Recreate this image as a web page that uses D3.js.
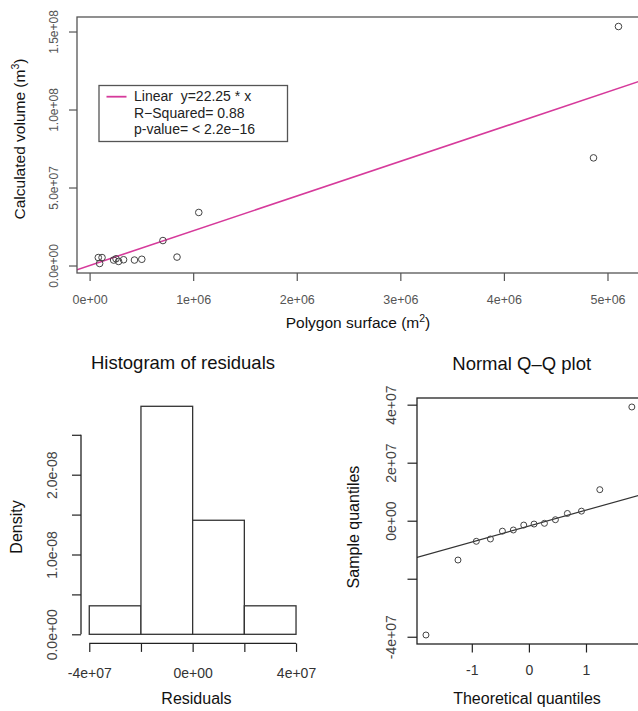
<!DOCTYPE html>
<html><head><meta charset="utf-8">
<script src="https://cdn.jsdelivr.net/npm/d3@7"></script>
<style>
html,body{margin:0;padding:0;background:#fff;}
svg{display:block;font-family:"Liberation Sans",Arial,sans-serif;}
</style></head>
<body>
<svg id="c" width="638" height="711"></svg>
<script>
// ---------- DATA ----------
// Top scatter: polygon surface (m2) vs calculated volume (m3)
const surface = [84000, 120000, 97000, 232000, 255000, 280000, 328000, 433000, 504000, 708000, 844000, 1054000, 4865000, 5106000];
const volume  = [5.1e6, 5.1e6, 1.3e6, 3.5e6, 4.3e6, 2.6e6, 3.7e6, 3.5e6, 4.0e6, 16.0e6, 5.4e6, 34.0e6, 69.0e6, 153.2e6];
const slope = 22.25;
const topXTicks = [0, 1e6, 2e6, 3e6, 4e6, 5e6];
const topXLabels = ["0e+00", "1e+06", "2e+06", "3e+06", "4e+06", "5e+06"];
const topYTicks = [0, 5e7, 1e8, 1.5e8];
const topYLabels = ["0.0e+00", "5.0e+07", "1.0e+08", "1.5e+08"];
const legendLines = ["Linear\u00a0 y=22.25 * x", "R\u2212Squared= 0.88", "p-value= < 2.2e\u221216"];

// Histogram of residuals
const binEdges = [-4e7, -2e7, 0, 2e7, 4e7];
const density = [3.57e-9, 2.857e-8, 1.429e-8, 3.57e-9];
const histXTicks = [-4e7, -2e7, 0, 2e7, 4e7];
const histXLabels = ["-4e+07", "", "0e+00", "", "4e+07"];
const histYTicks = [0, 0.5e-8, 1.0e-8, 1.5e-8, 2.0e-8, 2.5e-8];
const histYLabels = ["0.0e+00", "", "1.0e-08", "", "2.0e-08", ""];

// Normal Q-Q plot
const theoretical = [-1.803, -1.242, -0.921, -0.674, -0.464, -0.272, -0.090, 0.090, 0.272, 0.464, 0.674, 0.921, 1.242, 1.803];
const sample = [-39.4e6, -13.55e6, -7.1e6, -6.3e6, -3.6e6, -3.2e6, -1.5e6, -1.15e6, -0.9e6, 0.34e6, 2.5e6, 3.3e6, 10.7e6, 39.2e6];
const qqIntercept = -1.85e6, qqSlope = 5.5e6;
const qqXTicks = [-1, 0, 1];
const qqXLabels = ["-1", "0", "1"];
const qqYTicks = [-4e7, -2e7, 0, 2e7, 4e7];
const qqYLabels = ["-4e+07", "", "0e+00", "2e+07", "4e+07"];

// ---------- DRAW ----------
const svg = d3.select("#c");
const pink = "#d63a9b";

function rotLabels(g, off, size, color) {
  g.selectAll(".tick text")
    .attr("transform", "rotate(-90)")
    .attr("x", 0).attr("y", -off).attr("dy", 0)
    .attr("text-anchor", "middle")
    .style("font-size", size + "px").attr("fill", color);
}

// ===== Top scatter =====
{
  const x = d3.scaleLinear().domain([-0.1216e6, 5.31e6]).range([77, 639.6]);
  const y = d3.scaleLinear().domain([-4.8e6, 159.3e6]).range([273, 17]);
  const g = svg.append("g");
  const axCol = "#555";

  svg.append("clipPath").attr("id", "clipTop").append("rect")
    .attr("x", 77).attr("y", 17).attr("width", 562.6).attr("height", 256);
  const xd = x.domain();
  g.append("line").attr("clip-path", "url(#clipTop)")
    .attr("x1", x(xd[0])).attr("y1", y(slope * xd[0]))
    .attr("x2", x(xd[1])).attr("y2", y(slope * xd[1]))
    .attr("stroke", pink).attr("stroke-width", 1.6);

  g.append("g").selectAll("circle").data(surface).join("circle")
    .attr("cx", d => x(d)).attr("cy", (d, i) => y(volume[i])).attr("r", 3.3)
    .attr("fill", "none").attr("stroke", "#444").attr("stroke-width", 1);

  g.append("rect").attr("x", 77).attr("y", 17).attr("width", 562.6).attr("height", 256)
    .attr("fill", "none").attr("stroke", axCol).attr("stroke-width", 1.3);

  const xa = g.append("g").attr("transform", "translate(0,273)")
    .call(d3.axisBottom(x).tickValues(topXTicks).tickFormat((d, i) => topXLabels[i]).tickSize(8).tickSizeOuter(0).tickPadding(14));
  xa.select(".domain").remove();
  xa.selectAll(".tick line").attr("stroke", axCol).attr("stroke-width", 1.2);
  xa.selectAll(".tick text").style("font-size", "12.5px").attr("fill", "#555").attr("font-family", "Liberation Sans, Arial, sans-serif");

  const ya = g.append("g").attr("transform", "translate(77,0)")
    .call(d3.axisLeft(y).tickValues(topYTicks).tickFormat((d, i) => topYLabels[i]).tickSize(8).tickSizeOuter(0));
  ya.select(".domain").remove();
  ya.selectAll(".tick line").attr("stroke", axCol).attr("stroke-width", 1.2);
  rotLabels(ya, 19, 12, "#555");

  const xt = g.append("text").attr("x", 358).attr("y", 328).attr("text-anchor", "middle")
    .style("font-size", "15.5px").attr("fill", "#111");
  xt.append("tspan").text("Polygon surface (m");
  xt.append("tspan").text("2").attr("dy", -6).style("font-size", "10.5px");
  xt.append("tspan").text(")").attr("dy", 6);

  const yt = g.append("text").attr("transform", "translate(25,139) rotate(-90)").attr("text-anchor", "middle")
    .style("font-size", "15.5px").attr("fill", "#111");
  yt.append("tspan").text("Calculated volume (m");
  yt.append("tspan").text("3").attr("dy", -6).style("font-size", "10.5px");
  yt.append("tspan").text(")").attr("dy", 6);

  const lg = g.append("g");
  lg.append("rect").attr("x", 99).attr("y", 85.5).attr("width", 188.5).attr("height", 56)
    .attr("fill", "#fff").attr("stroke", "#555").attr("stroke-width", 1.3);
  lg.append("line").attr("x1", 106.5).attr("x2", 126.5).attr("y1", 96.7).attr("y2", 96.7)
    .attr("stroke", pink).attr("stroke-width", 1.8);
  lg.selectAll("text.lt").data(legendLines).join("text").attr("class", "lt")
    .attr("x", 134).attr("y", (d, i) => 101 + i * 16.5)
    .style("font-size", "14px").attr("fill", "#222").text(d => d);
}

// ===== Histogram =====
{
  const x = d3.scaleLinear().domain([-4.32e7, 4.32e7]).range([81, 304.3]);
  const y = d3.scaleLinear().domain([-0.114e-8, 2.971e-8]).range([643.4, 397.2]);
  const g = svg.append("g");
  const col = "#222";

  g.selectAll("rect.bar").data(density).join("rect").attr("class", "bar")
    .attr("x", (d, i) => x(binEdges[i])).attr("width", (d, i) => x(binEdges[i + 1]) - x(binEdges[i]))
    .attr("y", d => y(d)).attr("height", d => y(0) - y(d))
    .attr("fill", "#fff").attr("stroke", "#333").attr("stroke-width", 1.3);

  const xa = g.append("g").attr("transform", "translate(0,643.4)")
    .call(d3.axisBottom(x).tickValues(histXTicks).tickFormat((d, i) => histXLabels[i]).tickSize(8.5).tickSizeOuter(0).tickPadding(16));
  xa.select(".domain").remove();
  xa.append("line").attr("x1", x(histXTicks[0])).attr("x2", x(histXTicks[histXTicks.length - 1]))
    .attr("stroke", col).attr("stroke-width", 1.3);
  xa.selectAll(".tick line").attr("stroke", col).attr("stroke-width", 1.2);
  xa.selectAll(".tick text").style("font-size", "14px").attr("fill", "#333");

  const ya = g.append("g").attr("transform", "translate(81,0)")
    .call(d3.axisLeft(y).tickValues(histYTicks).tickFormat((d, i) => histYLabels[i]).tickSize(9).tickSizeOuter(0));
  ya.select(".domain").remove();
  ya.append("line").attr("y1", y(histYTicks[0])).attr("y2", y(histYTicks[histYTicks.length - 1]))
    .attr("stroke", col).attr("stroke-width", 1.3);
  ya.selectAll(".tick line").attr("stroke", col).attr("stroke-width", 1.2);
  rotLabels(ya, 24, 14, "#444");

  g.append("text").attr("x", 183).attr("y", 369).attr("text-anchor", "middle")
    .style("font-size", "18.5px").attr("fill", "#111").text("Histogram of residuals");
  g.append("text").attr("x", 196.5).attr("y", 704).attr("text-anchor", "middle")
    .style("font-size", "16px").attr("fill", "#111").text("Residuals");
  g.append("text").attr("transform", "translate(22,527) rotate(-90)").attr("text-anchor", "middle")
    .style("font-size", "16px").attr("fill", "#111").text("Density");
}

// ===== Q-Q plot =====
{
  const x = d3.scaleLinear().domain([-1.96, 1.96]).range([417, 640.8]);
  const y = d3.scaleLinear().domain([-42.5e6, 42.3e6]).range([644, 398]);
  const g = svg.append("g");
  const col = "#222";

  svg.append("clipPath").attr("id", "clipQQ").append("rect")
    .attr("x", 417).attr("y", 398).attr("width", 223.8).attr("height", 246);
  const xd = x.domain();
  g.append("line").attr("clip-path", "url(#clipQQ)")
    .attr("x1", x(xd[0])).attr("y1", y(qqIntercept + qqSlope * xd[0]))
    .attr("x2", x(xd[1])).attr("y2", y(qqIntercept + qqSlope * xd[1]))
    .attr("stroke", "#333").attr("stroke-width", 1.2);

  g.append("g").selectAll("circle").data(theoretical).join("circle")
    .attr("cx", d => x(d)).attr("cy", (d, i) => y(sample[i])).attr("r", 3)
    .attr("fill", "none").attr("stroke", "#444").attr("stroke-width", 1);

  g.append("rect").attr("x", 417).attr("y", 398).attr("width", 223.8).attr("height", 246)
    .attr("fill", "none").attr("stroke", col).attr("stroke-width", 1.3);

  const xa = g.append("g").attr("transform", "translate(0,644)")
    .call(d3.axisBottom(x).tickValues(qqXTicks).tickFormat((d, i) => qqXLabels[i]).tickSize(8.5).tickSizeOuter(0).tickPadding(13));
  xa.select(".domain").remove();
  xa.selectAll(".tick line").attr("stroke", col).attr("stroke-width", 1.2);
  xa.selectAll(".tick text").style("font-size", "14px").attr("fill", "#333");

  const ya = g.append("g").attr("transform", "translate(417,0)")
    .call(d3.axisLeft(y).tickValues(qqYTicks).tickFormat((d, i) => qqYLabels[i]).tickSize(9.5).tickSizeOuter(0));
  ya.select(".domain").remove();
  ya.selectAll(".tick line").attr("stroke", col).attr("stroke-width", 1.2);
  rotLabels(ya, 21, 14, "#444");

  g.append("text").attr("x", 521.7).attr("y", 370).attr("text-anchor", "middle")
    .style("font-size", "18.5px").attr("fill", "#111").text("Normal Q\u2013Q plot");
  g.append("text").attr("x", 527).attr("y", 704).attr("text-anchor", "middle")
    .style("font-size", "16px").attr("fill", "#111").text("Theoretical quantiles");
  g.append("text").attr("transform", "translate(358.5,527) rotate(-90)").attr("text-anchor", "middle")
    .style("font-size", "16px").attr("fill", "#111").text("Sample quantiles");
}
</script>
</body></html>
